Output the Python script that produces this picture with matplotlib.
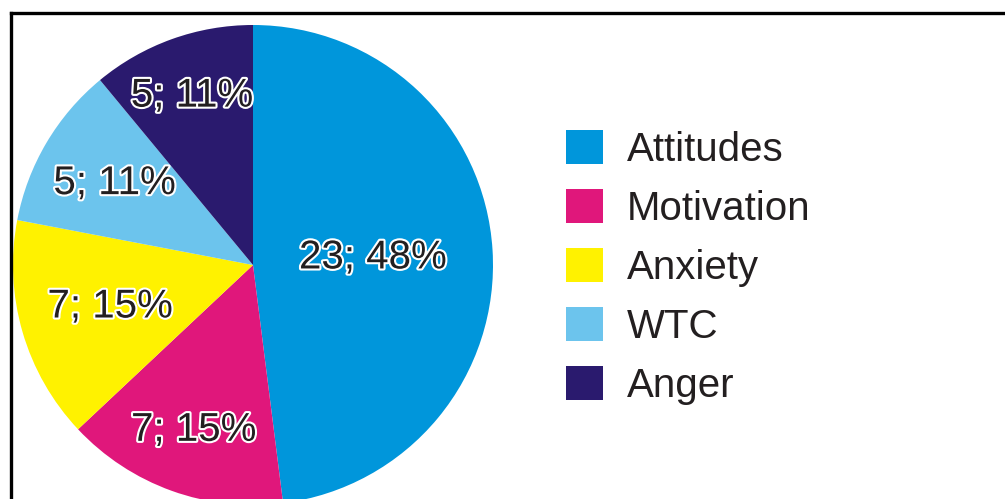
import numpy as np
import matplotlib.pyplot as plt
import matplotlib.patheffects as pe
from matplotlib.lines import Line2D

categories = ['Attitudes', 'Motivation', 'Anxiety', 'WTC', 'Anger']
counts = [23, 7, 7, 5, 5]
percents = [48, 15, 15, 11, 11]
colors = ['#0096db', '#e0177b', '#fff200', '#6cc4ed', '#2a1a6e']
label_radius = [0.50, 0.73, 0.62, 0.67, 0.75]  # radial spot for each label

plt.rcParams['font.family'] = ['Liberation Sans', 'DejaVu Sans']

fig = plt.figure(figsize=(10.05, 4.99), dpi=100)
ax = fig.add_axes([13/1005, -6/499, 480/1005, 480/499])

wedges, _ = ax.pie(percents, colors=colors, startangle=90, counterclock=False,
                   radius=1.0, wedgeprops=dict(linewidth=0))
ax.set_xlim(-1, 1)
ax.set_ylim(-1, 1)
ax.set_aspect('equal')
ax.axis('off')

halo = [pe.withStroke(linewidth=3, foreground='white')]
for w, n, p, r in zip(wedges, counts, percents, label_radius):
    mid = np.deg2rad((w.theta1 + w.theta2) / 2)
    ax.text(r*np.cos(mid), r*np.sin(mid), '{}; {}%'.format(n, p),
            ha='center', va='center', fontsize=29, color='#231f20',
            path_effects=halo)

leg = fig.legend(wedges, categories, loc='upper left',
                 bbox_to_anchor=(566/1005, 1 - 130/499),
                 bbox_transform=fig.transFigure, frameon=False,
                 fontsize=29, handlelength=0.92, handleheight=0.92,
                 handletextpad=0.6, labelspacing=0.5,
                 borderpad=0, borderaxespad=0)
for t in leg.get_texts():
    t.set_color('#231f20')

# frame lines along the top and left edge
fig.add_artist(Line2D([11/1005, 1], [1 - 12.5/499]*2, color='black', lw=2.4,
                      transform=fig.transFigure))
fig.add_artist(Line2D([11/1005]*2, [0, 1 - 12.5/499], color='black', lw=2.4,
                      transform=fig.transFigure))

fig.savefig('out.png', dpi=100)
